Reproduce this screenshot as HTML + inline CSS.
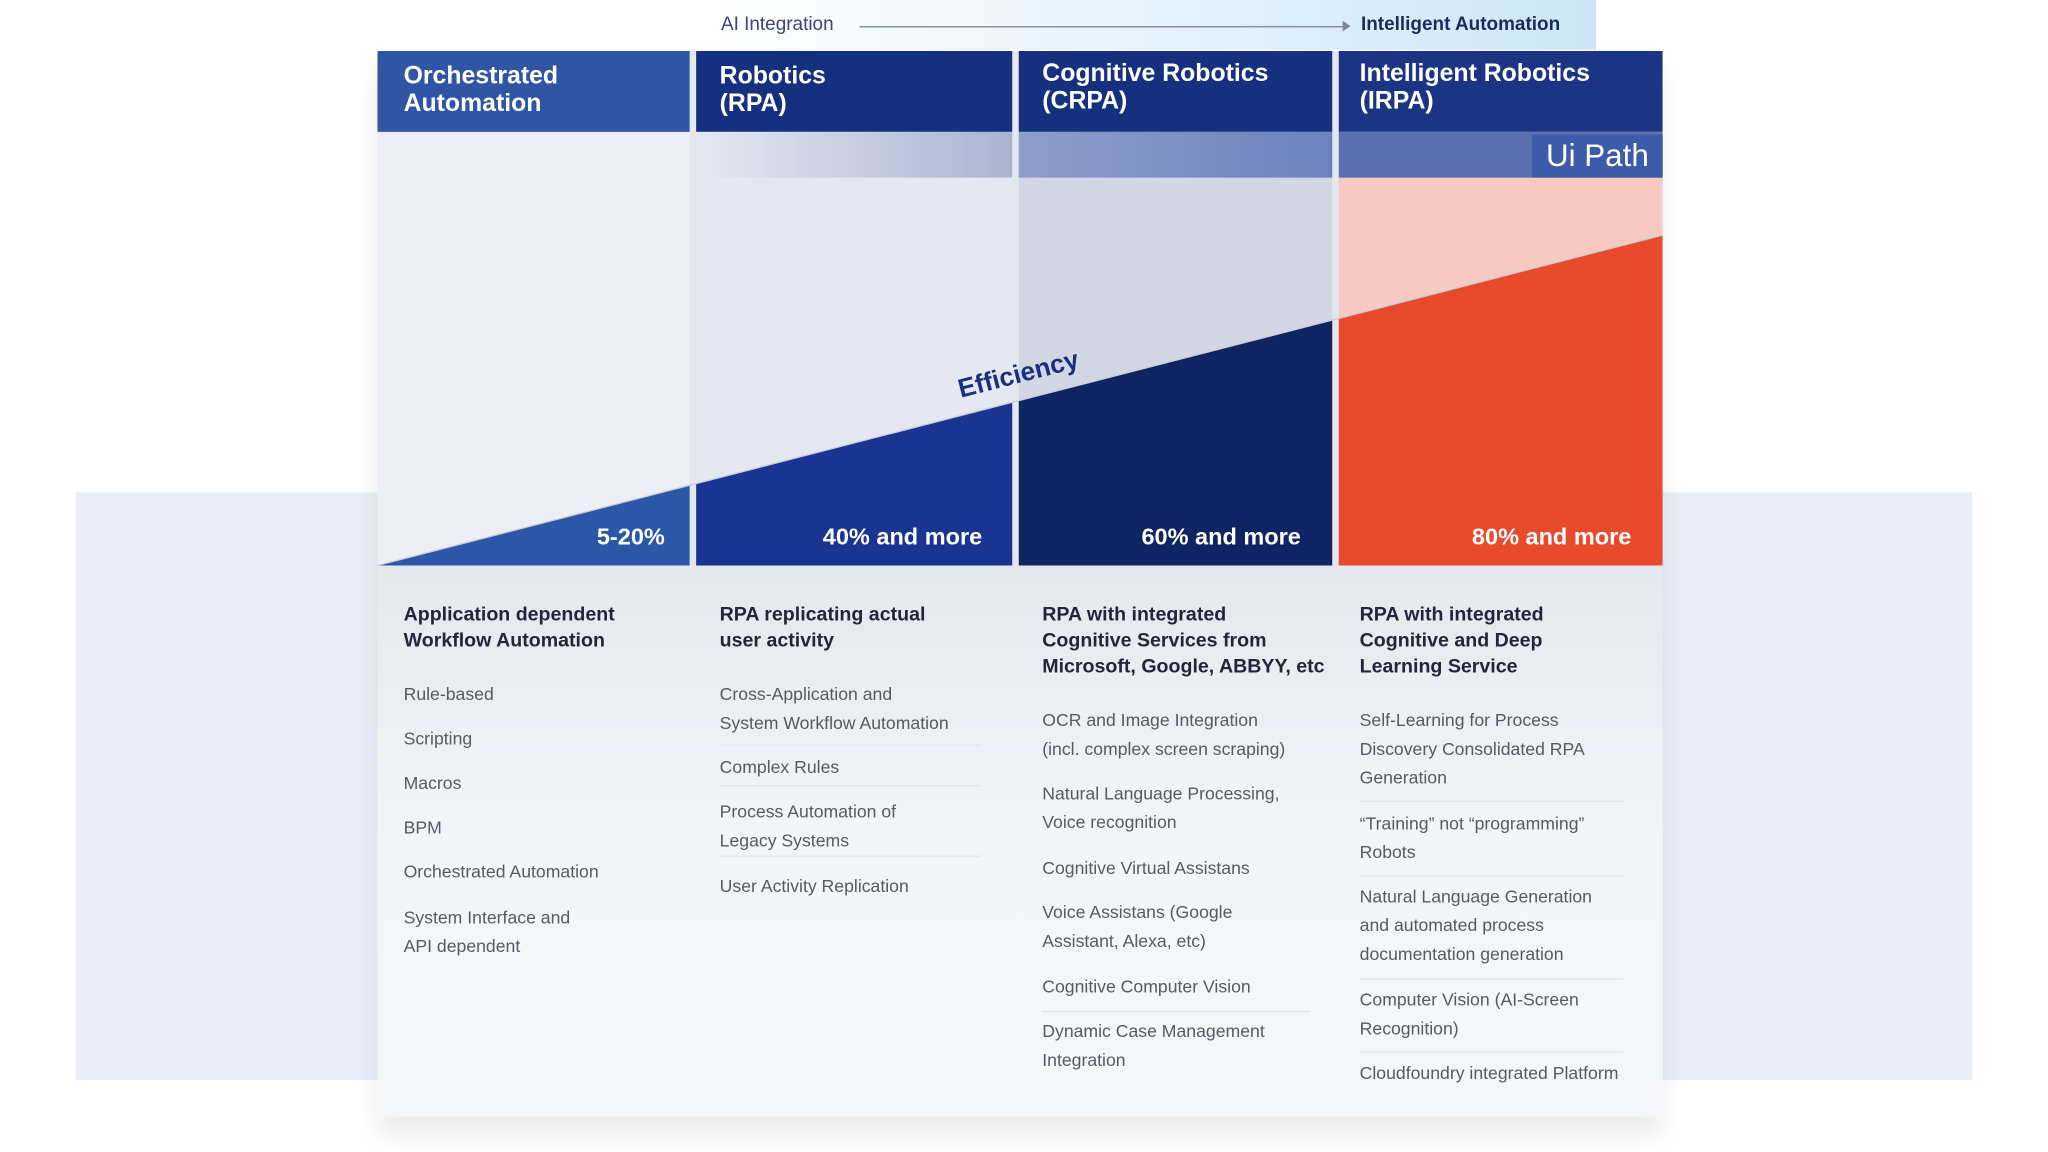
<!DOCTYPE html>
<html><head><meta charset="utf-8">
<style>
html,body{margin:0;padding:0;background:#fff;width:2048px;height:1152px;overflow:hidden}
#s{position:absolute;left:0;top:0;width:1568px;height:882px;transform:scale(1.3061);transform-origin:0 0;font-family:"Liberation Sans",sans-serif}
.a{position:absolute}
.hd{color:#fff;font-weight:bold;font-size:19px;line-height:21px}
.h2{color:#23263a;font-weight:bold;font-size:15px;line-height:20px}
.it{color:#555a66;font-size:13.5px;line-height:22px}
.pc{color:#fff;font-weight:bold;font-size:18px;text-align:right;width:200px}
.dv{position:absolute;height:1px;background:#e2e5ec}
</style></head><body>
<div id="s">
<div class="a" style="left:540px;top:0;width:682px;height:38px;background:linear-gradient(90deg,rgba(255,255,255,0),#e6f2fb 50%,#cce6f7)"></div>
<div class="a" style="left:552px;top:11px;font-size:14.5px;color:#3b4672">AI Integration</div>
<div class="a" style="left:658px;top:20px;width:374px;height:1px;background:#7d8595"></div>
<div class="a" style="left:1028px;top:16px;width:0;height:0;border-left:6px solid #7d8595;border-top:4px solid transparent;border-bottom:4px solid transparent"></div>
<div class="a" style="left:1042px;top:11px;font-size:14.5px;font-weight:bold;color:#1f2a5c">Intelligent Automation</div>
<div class="a" style="left:58px;top:377px;width:1452px;height:450px;background:#e9edf5"></div>
<div class="a" style="left:289px;top:39px;width:984px;height:816px;background:linear-gradient(180deg,#e4e7ee 390px,#f3f5f8 600px,#f5f6f8);box-shadow:0 14px 18px rgba(0,0,0,0.08)"></div>
<svg class="a" style="left:289px;top:39px" width="984" height="400">
<defs>
<linearGradient id="g2" x1="0" x2="1"><stop offset="0" stop-color="#e6e8f1"/><stop offset="1" stop-color="#aab3d2"/></linearGradient>
<linearGradient id="g3" x1="0" x2="1"><stop offset="0" stop-color="#8e9dca"/><stop offset="1" stop-color="#6d82bd"/></linearGradient>
</defs>
<g id="cols"></g>
</svg>
<div class="a" style="left:1173px;top:103px;width:100px;height:33px;background:#3d5ba8;color:#fff;font-size:24px;line-height:33px;text-align:center">Ui Path</div>
<div class="a" style="left:720px;top:276px;width:120px;text-align:center;color:#1b2f80;font-weight:bold;font-size:20px;transform:rotate(-14.4deg)">Efficiency</div>
<div class="a hd" style="left:309px;top:48px">Orchestrated<br>Automation</div>
<div class="a hd" style="left:551px;top:48px">Robotics<br>(RPA)</div>
<div class="a hd" style="left:798px;top:46px">Cognitive Robotics<br>(CRPA)</div>
<div class="a hd" style="left:1041px;top:46px">Intelligent Robotics<br>(IRPA)</div>
<div class="a pc" style="left:309px;top:401px">5-20%</div>
<div class="a pc" style="left:552px;top:401px">40% and more</div>
<div class="a pc" style="left:796px;top:401px">60% and more</div>
<div class="a pc" style="left:1049px;top:401px">80% and more</div>

<div class="a h2" style="left:309px;top:461px">Application dependent<br>Workflow Automation</div>
<div class="a it" style="left:309px;top:521px">
<div style="height:34px">Rule-based</div><div style="height:34px">Scripting</div><div style="height:34px">Macros</div><div style="height:34px">BPM</div><div style="height:35px">Orchestrated Automation</div><div>System Interface and<br>API dependent</div></div>

<div class="a h2" style="left:551px;top:461px">RPA replicating actual<br>user activity</div>
<div class="a it" style="left:551px;top:521px">
<div style="height:56px">Cross-Application and<br>System Workflow Automation</div><div style="height:34px">Complex Rules</div><div style="height:57px">Process Automation of<br>Legacy Systems</div><div>User Activity Replication</div></div>
<div class="dv" style="left:551px;top:570px;width:200px"></div><div class="dv" style="left:551px;top:601px;width:200px"></div><div class="dv" style="left:551px;top:655px;width:200px"></div>

<div class="a h2" style="left:798px;top:461px">RPA with integrated<br>Cognitive Services from<br>Microsoft, Google, ABBYY, etc</div>
<div class="a it" style="left:798px;top:541px">
<div style="height:56px">OCR and Image Integration<br>(incl. complex screen scraping)</div><div style="height:57px">Natural Language Processing,<br>Voice recognition</div><div style="height:34px">Cognitive Virtual Assistans</div><div style="height:57px">Voice Assistans (Google<br>Assistant, Alexa, etc)</div><div style="height:34px">Cognitive Computer Vision</div><div>Dynamic Case Management<br>Integration</div></div>
<div class="dv" style="left:798px;top:774px;width:205px"></div>

<div class="a h2" style="left:1041px;top:461px">RPA with integrated<br>Cognitive and Deep<br>Learning Service</div>
<div class="a it" style="left:1041px;top:541px">
<div style="height:79px">Self-Learning for Process<br>Discovery Consolidated RPA<br>Generation</div><div style="height:56px">“Training” not “programming”<br>Robots</div><div style="height:79px">Natural Language Generation<br>and automated process<br>documentation generation</div><div style="height:56px">Computer Vision (AI-Screen<br>Recognition)</div><div>Cloudfoundry integrated Platform</div></div>
<div class="dv" style="left:1041px;top:613px;width:202px"></div><div class="dv" style="left:1041px;top:670px;width:202px"></div><div class="dv" style="left:1041px;top:749px;width:202px"></div><div class="dv" style="left:1041px;top:805px;width:202px"></div>
</div>
<script>
const colNames=['orchestrated','rpa','crpa','irpa'];
const colX=[0,244,491,736];
const colW=[239,242,240,248];
const headColors=['#2f55a4','#14307f','#15307f','#1c3484'];
const bodyColors=['#eeeff4','#e6e8f1','#d3d7e4','#f6c9c1'];
const fillColors=['#2c56a6','#1a3591','#0f2462','#e84a2c'];
const effStart=0, effEnd=253;
const ns='http://www.w3.org/2000/svg', g=document.getElementById('cols');
const base=394, W=984;
function yAt(x){return base-(effStart+(effEnd-effStart)*x/W);}
function mk(t,a){const e=document.createElementNS(ns,t);for(const k in a)e.setAttribute(k,a[k]);g.appendChild(e);return e;}
colNames.forEach((n,i)=>{
 const x0=colX[i],x1=colX[i]+colW[i];
 let e=mk('rect',{x:x0,y:0,width:colW[i],height:62,fill:headColors[i]});
 
 
 e=mk('rect',{x:x0,y:62,width:colW[i],height:base-62,fill:bodyColors[i]});
 
 
 if(i>0){const f=i==1?'url(#g2)':i==2?'url(#g3)':'#5a70b0';
  e=mk('rect',{x:x0,y:62,width:colW[i],height:35,fill:f});
  
  }
 e=mk('polygon',{points:`${x0},${yAt(x0)} ${x1},${yAt(x1)} ${x1},${base} ${x0},${base}`,fill:fillColors[i]});
 
 
});
let l=mk('line',{x1:0,y1:yAt(0),x2:W,y2:yAt(W),stroke:'#c9cdd9','stroke-width':1});


</script>
</body></html>
